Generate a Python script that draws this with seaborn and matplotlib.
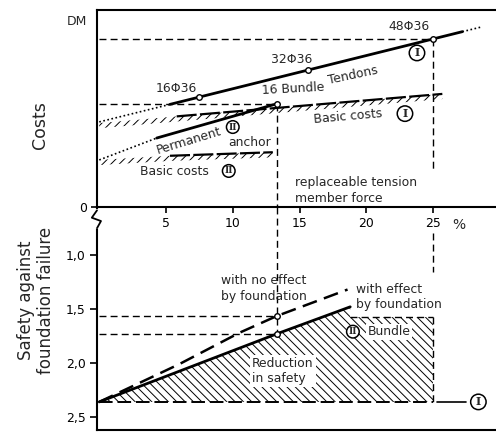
import matplotlib
matplotlib.use('Agg')
import matplotlib.pyplot as plt
import seaborn as sns

# ---- upper panel: costs vs. replaceable tension member force (%)
tendon_pct = [5.3, 27.2]
tendon_cost = [52.1, 89.0]
tendon_lead_pct = [0.0, 5.3]
tendon_lead_cost = [43.2, 52.1]
tendon_tail_pct = [27.2, 28.7]
tendon_tail_cost = [89.0, 91.5]
bar_pct = [7.5, 15.6, 25.0]
bar_cost = [55.8, 69.4, 85.3]
bar_labels = ['16Φ36', '32Φ36', '48Φ36']

anchor_lead_pct = [0.0, 4.3]
anchor_lead_cost = [23.9, 35.0]
anchor_pct = [4.3, 13.3]
anchor_cost = [35.0, 52.4]
bundle_pct = 13.3
bundle_cost = 52.4

basic1_pct = [0.0, 5.8, 25.7]
basic1_cost = [42.6, 46.0, 57.4]
basic2_pct = [0.0, 5.3, 13.0]
basic2_cost = [23.9, 26.0, 27.8]

force_low_cost = 18.8

# ---- lower panel: safety against foundation failure
safety_base = 2.36
no_effect_pct = [0.0, 6.0, 10.5, 13.3, 18.6]
no_effect_safety = [2.36, 2.01, 1.72, 1.565, 1.32]
with_effect_pct = [0.0, 13.3, 18.8]
with_effect_safety = [2.36, 1.73, 1.48]
bundle_zone_pct = [0.0, 13.3, 18.8, 18.8, 25.0]
bundle_zone_top = [2.36, 1.73, 1.48, 1.575, 1.575]
force_start_safety = 0.80
force_end_safety = 1.16

x_ticks = [5, 10, 15, 20, 25]
safety_ticks = [1.0, 1.5, 2.0, 2.5]
safety_labels = ['1,0', '1,5', '2,0', '2,5']

sns.set_theme(style='white')
plt.rcParams['font.family'] = ['DejaVu Sans']
plt.rcParams['hatch.linewidth'] = 0.7
K = 'black'
FS = 8.9

fig = plt.figure(figsize=(4.96, 4.32), dpi=100)
ax2 = fig.add_axes([97 / 496, 2 / 432, 399 / 496, 223 / 432])
ax1 = fig.add_axes([97 / 496, 225 / 432, 399 / 496, 197 / 432])
for ax in (ax1, ax2):
    ax.patch.set_visible(False)
    ax.set_xlim(-0.17, 29.72)
    for s in ax.spines.values():
        s.set_color(K)
        s.set_linewidth(1.5)
    ax.spines['right'].set_visible(False)
ax2.spines['top'].set_visible(False)

ax1.set_ylim(0, 100)
ax2.set_ylim(2.62, 0.556)

# ---------- upper panel
dash = (0, (5, 3))
def circ(ax, x, y, s, size=8):
    ax.text(x, y, s, ha='center', va='center', fontsize=size, family='DejaVu Serif',
            fontweight='bold',
            bbox=dict(boxstyle='circle,pad=0.2', fc='white', ec=K, lw=1.1), zorder=6)

# helper lines
ax1.plot([0, bar_pct[2]], [bar_cost[2]] * 2, color=K, lw=1, ls=dash)
ax1.plot([bar_pct[2]] * 2, [bar_cost[2], force_low_cost], color=K, lw=1, ls=dash)
ax1.plot([0, bundle_pct], [bundle_cost] * 2, color=K, lw=1, ls=dash)
ax1.plot([bundle_pct] * 2, [bundle_cost, 0], color=K, lw=1, ls=dash)

# basic cost hatched strips
for px, cy in ((basic1_pct, basic1_cost), (basic2_pct, basic2_cost)):
    ax1.fill_between(px, [c - 2.6 for c in cy], cy, facecolor='none', edgecolor=K,
                     hatch='////', linewidth=0)
    sns.lineplot(x=px[1:], y=cy[1:], ax=ax1, color=K, lw=1.6, ls=(0, (9, 1.5)))

sns.lineplot(x=tendon_pct, y=tendon_cost, ax=ax1, color=K, lw=2.0)
sns.lineplot(x=tendon_lead_pct, y=tendon_lead_cost, ax=ax1, color=K, lw=1.2, ls=(0, (1, 1.5)))
sns.lineplot(x=tendon_tail_pct, y=tendon_tail_cost, ax=ax1, color=K, lw=1.2, ls=(0, (1, 1.5)))
sns.lineplot(x=anchor_pct, y=anchor_cost, ax=ax1, color=K, lw=2.0)
sns.lineplot(x=anchor_lead_pct, y=anchor_lead_cost, ax=ax1, color=K, lw=1.2, ls=(0, (1, 1.5)))
sns.scatterplot(x=bar_pct + [bundle_pct], y=bar_cost + [bundle_cost], ax=ax1, s=16,
                facecolor='white', edgecolor=K, linewidth=1.0, zorder=5)

ax1.text(5.8, 60.4, bar_labels[0], ha='center', va='center', fontsize=FS)
ax1.text(14.4, 75.1, bar_labels[1], ha='center', va='center', fontsize=FS)
ax1.text(23.2, 91.4, bar_labels[2], ha='center', va='center', fontsize=FS)
circ(ax1, 23.8, 78.2, 'I')
ax1.text(19.0, 67.0, 'Tendons', ha='center', va='center', fontsize=FS, rotation=12)
ax1.text(14.5, 59.9, '16 Bundle', ha='center', va='center', fontsize=FS, rotation=3)
ax1.text(18.6, 45.7, 'Basic costs', ha='center', va='center', fontsize=FS, rotation=5)
circ(ax1, 22.9, 47.4, 'I')
ax1.text(6.7, 33.5, 'Permanent', ha='center', va='center', fontsize=FS, rotation=17)
circ(ax1, 10.0, 40.6, 'II', 6.5)
ax1.text(11.3, 32.6, 'anchor', ha='center', va='center', fontsize=FS)
ax1.text(5.6, 17.8, 'Basic costs', ha='center', va='center', fontsize=FS)
circ(ax1, 9.7, 18.3, 'II', 6.5)
ax1.text(14.65, 12.2, 'replaceable tension', ha='left', va='center', fontsize=FS)
ax1.text(14.65, 4.1, 'member force', ha='left', va='center', fontsize=FS)
ax1.text(-0.9, 94, 'DM', ha='right', va='center', fontsize=FS)
ax1.text(26.9, -9.3, '%', ha='center', va='center', fontsize=FS + 1, clip_on=False)

ax1.set_xticks(x_ticks)
ax1.set_xticklabels([str(t) for t in x_ticks])
ax1.set_yticks([0])
ax1.set_yticklabels(['0'])
ax1.tick_params(axis='both', direction='out', length=4, width=1.2, colors=K,
                labelsize=FS, pad=3, left=True, bottom=True)
ax1.set_ylabel('')

# ---------- lower panel
ax2.fill_between(bundle_zone_pct, [safety_base] * len(bundle_zone_pct), bundle_zone_top,
                 facecolor='none', edgecolor=K, hatch='\\\\\\\\', linewidth=0)
ax2.plot([bundle_zone_pct[3], bundle_zone_pct[4]], [bundle_zone_top[3]] * 2,
         color=K, lw=1, ls=dash)
ax2.plot([bundle_zone_pct[4]] * 2, [bundle_zone_top[4], safety_base], color=K, lw=1, ls=dash)
ax2.plot([0, bundle_zone_pct[4]], [safety_base] * 2, color=K, lw=1.4, ls=(0, (7, 2.5)))
ax2.plot([25.3, 27.5], [safety_base] * 2, color=K, lw=1.2)
circ(ax2, 28.4, safety_base, 'I')

ax2.plot([bar_pct[2]] * 2, [force_start_safety, force_end_safety], color=K, lw=1, ls=dash)
ax2.plot([bundle_pct] * 2, [0.556, with_effect_safety[1]], color=K, lw=1, ls=dash,
         clip_on=False)
ax2.plot([0, no_effect_pct[3]], [no_effect_safety[3]] * 2, color=K, lw=1, ls=dash)
ax2.plot([0, with_effect_pct[1]], [with_effect_safety[1]] * 2, color=K, lw=1, ls=dash)

sns.lineplot(x=with_effect_pct, y=with_effect_safety, ax=ax2, color=K, lw=2.0)
sns.lineplot(x=no_effect_pct, y=no_effect_safety, ax=ax2, color=K, lw=1.8, ls=(0, (6, 3)))
sns.scatterplot(x=[no_effect_pct[3], with_effect_pct[1]],
                y=[no_effect_safety[3], with_effect_safety[1]], ax=ax2, s=16,
                facecolor='white', edgecolor=K, linewidth=1.0, zorder=5)

ax2.text(12.3, 1.31, 'with no effect\nby foundation', ha='center', va='center',
         fontsize=FS, linespacing=1.25)
ax2.text(19.25, 1.39, 'with effect\nby foundation', ha='left', va='center',
         fontsize=FS, linespacing=1.25)
ax2.text(11.45, 2.075, 'Reduction\nin safety', ha='left', va='center', fontsize=FS,
         linespacing=1.25, bbox=dict(fc='white', ec='none', pad=1.5))
ax2.text(20.1, 1.71, 'Bundle', ha='left', va='center', fontsize=FS,
         bbox=dict(fc='white', ec='none', pad=1.2))
circ(ax2, 19.0, 1.71, 'II', 6.5)

ax2.set_xticks([])
ax2.set_yticks(safety_ticks)
ax2.set_yticklabels(safety_labels)
ax2.tick_params(axis='y', direction='out', length=5, width=1.2, colors=K,
                labelsize=FS, pad=3, left=True)
ax2.set_ylabel('')
ax1.set_xlabel('')
ax2.set_xlabel('')

# axis break on the left spine
ax2.plot([0, 0], [0.91, 0.98], transform=ax2.transAxes, color='white', lw=3,
         clip_on=False, zorder=7)
ax2.plot([0, -0.013, 0.01, 0], [0.985, 0.952, 0.937, 0.905], transform=ax2.transAxes,
         color=K, lw=1.3, clip_on=False, zorder=8)

fig.text(40 / 496, 1 - 125 / 432, 'Costs', rotation=90, ha='center', va='center',
         fontsize=12.5)
fig.text(36 / 496, 1 - 300 / 432, 'Safety against\nfoundation failure', rotation=90,
         ha='center', va='center', fontsize=12, linespacing=1.1)

fig.savefig('out.png', dpi=100)
